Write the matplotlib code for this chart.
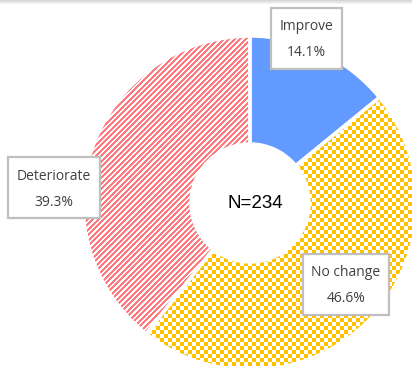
import matplotlib.pyplot as plt
import numpy as np
from matplotlib.colors import to_rgb
from matplotlib.patches import Rectangle, Wedge

# data
labels = ['Improve', 'No change', 'Deteriorate']
counts = [33, 109, 92]
total = sum(counts)

colors = ['#639AFF', '#FFC000', '#FF7A7E']
fills = ['solid', 'checker', 'stripes']

W, H = 412, 366
fig = plt.figure(figsize=(W / 100, H / 100), dpi=100)
ax = fig.add_axes([0, 0, 1, 1])

cx, cy = 250, 163
R, r = 167, 59

# pixel patterns for the hatched slices
yy, xx = np.mgrid[0:H, 0:W]
patterns = {
    'stripes': ((2 * (xx - yy)) % 11) < 6,
    'checker': ((xx // 4) + (yy // 4)) % 2 == 0,
}


def pattern_img(mask, color):
    img = np.ones((H, W, 3))
    img[mask] = to_rgb(color)
    return img


theta = 90.0
for cnt, col, fill in zip(counts, colors, fills):
    span = 360.0 * cnt / total
    t1, t2 = theta - span, theta
    theta = t1
    w = Wedge((cx, cy), R, t1, t2, width=R - r, facecolor=col, edgecolor='none')
    ax.add_patch(w)
    if fill != 'solid':
        w.set_facecolor('white')
        im = ax.imshow(pattern_img(patterns[fill], col), extent=(0, W, 0, H),
                       origin='lower', interpolation='nearest', zorder=2)
        im.set_clip_path(w)
    ax.add_patch(Wedge((cx, cy), R, t1, t2, width=R - r, facecolor='none',
                       edgecolor='white', lw=2.5, zorder=3))

ax.set_xlim(0, W)
ax.set_ylim(0, H)
ax.set_aspect('auto')
ax.axis('off')

# light shadow along the top edge
grad = np.linspace(0.84, 1.0, 5)[:, None] * np.ones((1, W))
ax.imshow(np.dstack([grad] * 3), extent=(0, W, H - 5, H), origin='upper',
          aspect='auto', zorder=5)

# label boxes
label_pos = [(306.5, 326), (346, 80), (54, 177)]
fig.canvas.draw()
renderer = fig.canvas.get_renderer()
for lab, cnt, (lx, ly) in zip(labels, counts, label_pos):
    t = ax.text(lx, ly, f'{lab}\n{100 * cnt / total:.1f}%', ha='center',
                va='center', fontsize=10, family='Open Sans', color='#404040',
                linespacing=2.0, zorder=7)
    bb = t.get_window_extent(renderer)
    bw, bh = bb.width + 17, 61
    ax.add_patch(Rectangle((lx - bw / 2, ly - bh / 2 + 2), bw, bh, facecolor='white',
                           edgecolor='#BFBFBF', lw=1.6, zorder=6))

ax.text(cx + 5, cy, f'N={total}', ha='center', va='center', fontsize=13.5,
        family='Liberation Sans', color='black', zorder=6)

fig.savefig('out.png', dpi=100)
